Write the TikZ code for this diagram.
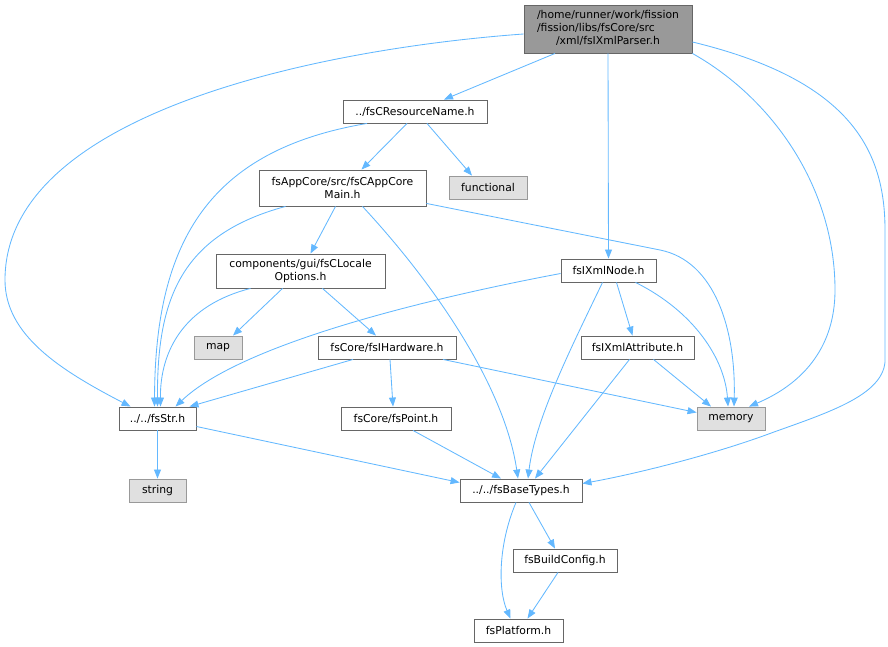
\documentclass[tikz,border=0pt]{standalone}
\usepackage{fontspec}
\setmainfont{DejaVu Sans}
\usetikzlibrary{arrows.meta}
\definecolor{edgeblue}{HTML}{63B8FF}
\definecolor{boxline}{HTML}{666666}
\definecolor{grayfill}{HTML}{E0E0E0}
\definecolor{grayline}{HTML}{999999}
\definecolor{topfill}{HTML}{999999}
\begin{document}
\begin{tikzpicture}[x=1pt,y=-1pt,
  filebox/.style={draw=boxline,fill=white,line width=0.9pt,inner sep=0pt,align=center,
    font=\fontsize{10.8}{13}\selectfont},
  graybox/.style={filebox,draw=grayline,fill=grayfill},
  topbox/.style={filebox,fill=topfill},
  dep/.style={draw=edgeblue,line width=0.85pt,-{Triangle[length=9pt,width=7pt]}}]
\useasboundingbox (0,0) rectangle (888,647);
% nodes
\node[topbox,minimum width=168pt,minimum height=48pt] (parser) at (608,29)
  {\begin{tabular}{@{}l@{}}/home/runner/work/fission\\/fission/libs/fsCore/src\\\multicolumn{1}{@{}c@{}}{/xml/fsIXmlParser.h}\end{tabular}};
\node[filebox,minimum width=144pt,minimum height=23pt] (resname) at (415,111.5) {../fsCResourceName.h};
\node[graybox,minimum width=78pt,minimum height=23pt] (functional) at (488,187.5) {functional};
\node[filebox,minimum width=167pt,minimum height=36pt] (appmain) at (342.5,188) {fsAppCore/src/fsCAppCore\\Main.h};
\node[filebox,minimum width=169pt,minimum height=34pt] (locale) at (300.5,271) {components/gui/fsCLocale\\Options.h};
\node[graybox,minimum width=48pt,minimum height=23pt] (map) at (218,347.5) {map};
\node[filebox,minimum width=138pt,minimum height=23pt] (hardware) at (387,347.5) {fsCore/fsIHardware.h};
\node[filebox,minimum width=95pt,minimum height=23pt] (xmlnode) at (608.5,270.5) {fsIXmlNode.h};
\node[filebox,minimum width=113pt,minimum height=23pt] (xmlattr) at (637.5,347.5) {fsIXmlAttribute.h};
\node[graybox,minimum width=68pt,minimum height=23pt] (memory) at (731,418.5) {memory};
\node[filebox,minimum width=77pt,minimum height=23pt] (fsstr) at (157.5,418.5) {../../fsStr.h};
\node[filebox,minimum width=110pt,minimum height=23pt] (fspoint) at (396,418.5) {fsCore/fsPoint.h};
\node[graybox,minimum width=57pt,minimum height=23pt] (string) at (157.5,490.5) {string};
\node[filebox,minimum width=122pt,minimum height=23pt] (basetypes) at (521,490.5) {../../fsBaseTypes.h};
\node[filebox,minimum width=104pt,minimum height=23pt] (buildconfig) at (565,560.5) {fsBuildConfig.h};
\node[filebox,minimum width=89pt,minimum height=23pt] (platform) at (518.5,630.5) {fsPlatform.h};
% edges from parser
\draw[dep] ([yshift=-5pt]parser.west) .. controls (330,48) and (5,110) .. (5,280)
  .. controls (5,335) and (60,370) .. ([xshift=-27pt]fsstr.north);
\draw[dep] ([xshift=-53pt]parser.south) -- ([xshift=29pt]resname.north);
\draw[dep] (parser.south) -- (xmlnode.north);
\draw[dep] (parser.south east) .. controls (775,100) and (835,190) .. (835,290)
  .. controls (835,350) and (800,385) .. ([xshift=18pt]memory.north);
\draw[dep] ([yshift=-13pt]parser.east) .. controls (850,80) and (885,150) .. (885,230)
  -- (885,362) .. controls (882,395) and (830,412) .. (774,432)
  .. controls (710,456) and (630,475) .. ([yshift=7pt]basetypes.east);
% from resname
\draw[dep] ([xshift=-48pt]resname.south) .. controls (210,150) and (155,240) .. ([xshift=-3pt]fsstr.north);
\draw[dep] ([xshift=-8pt]resname.south) -- ([xshift=19pt]appmain.north);
\draw[dep] ([xshift=12pt]resname.south) -- ([xshift=-16pt]functional.north);
% from appmain
\draw[dep] ([xshift=-57pt]appmain.south) .. controls (180,235) and (157,300) .. (fsstr.north);
\draw[dep] ([xshift=-7pt]appmain.south) -- ([xshift=10pt]locale.north);
\draw[dep] ([xshift=20pt]appmain.south) .. controls (440,290) and (505,390) .. ([xshift=-3pt]basetypes.north);
\draw[dep] ([yshift=3pt]appmain.south east) -- (660,250) .. controls (715,261) and (736,330) .. ([xshift=3pt]memory.north);
% from locale
\draw[dep] ([xshift=-50pt]locale.south) .. controls (185,305) and (160,350) .. ([xshift=3pt]fsstr.north);
\draw[dep] ([xshift=-18pt]locale.south) -- ([xshift=15pt]map.north);
\draw[dep] ([xshift=22pt]locale.south) -- ([xshift=-11pt]hardware.north);
% from hardware
\draw[dep] ([xshift=-34pt]hardware.south) -- ([xshift=32pt]fsstr.north);
\draw[dep] ([xshift=3pt]hardware.south) -- ([xshift=-3pt]fspoint.north);
\draw[dep] ([xshift=56pt]hardware.south) -- ([yshift=6pt]memory.west);
% from xmlnode
\draw[dep] ([yshift=-3pt]xmlnode.west) .. controls (420,300) and (240,345) .. ([xshift=18pt]fsstr.north);
\draw[dep] ([xshift=-6pt]xmlnode.south) .. controls (570,350) and (535,420) .. ([xshift=7pt]basetypes.north);
\draw[dep] ([xshift=8pt]xmlnode.south) -- ([xshift=-5pt]xmlattr.north);
\draw[dep] ([xshift=27pt]xmlnode.south) .. controls (695,312) and (725,360) .. ([xshift=-3pt]memory.north);
% from xmlattr
\draw[dep] ([xshift=-8pt]xmlattr.south) -- ([xshift=14pt]basetypes.north);
\draw[dep] ([xshift=16pt]xmlattr.south) -- ([xshift=-20pt]memory.north);
% from fsstr
\draw[dep] (fsstr.south) -- (string.north);
\draw[dep] ([yshift=-8pt]fsstr.east) -- ([yshift=8pt]basetypes.west);
% from fspoint
\draw[dep] ([xshift=17pt]fspoint.south) -- ([xshift=-20pt]basetypes.north);
% from basetypes
\draw[dep] ([xshift=8pt]basetypes.south) -- ([xshift=-10pt]buildconfig.north);
\draw[dep] ([xshift=-5pt]basetypes.south) .. controls (498,545) and (498,590) .. ([xshift=-8pt]platform.north);
% from buildconfig
\draw[dep] ([xshift=-7pt]buildconfig.south) -- ([xshift=9pt]platform.north);
\end{tikzpicture}
\end{document}
